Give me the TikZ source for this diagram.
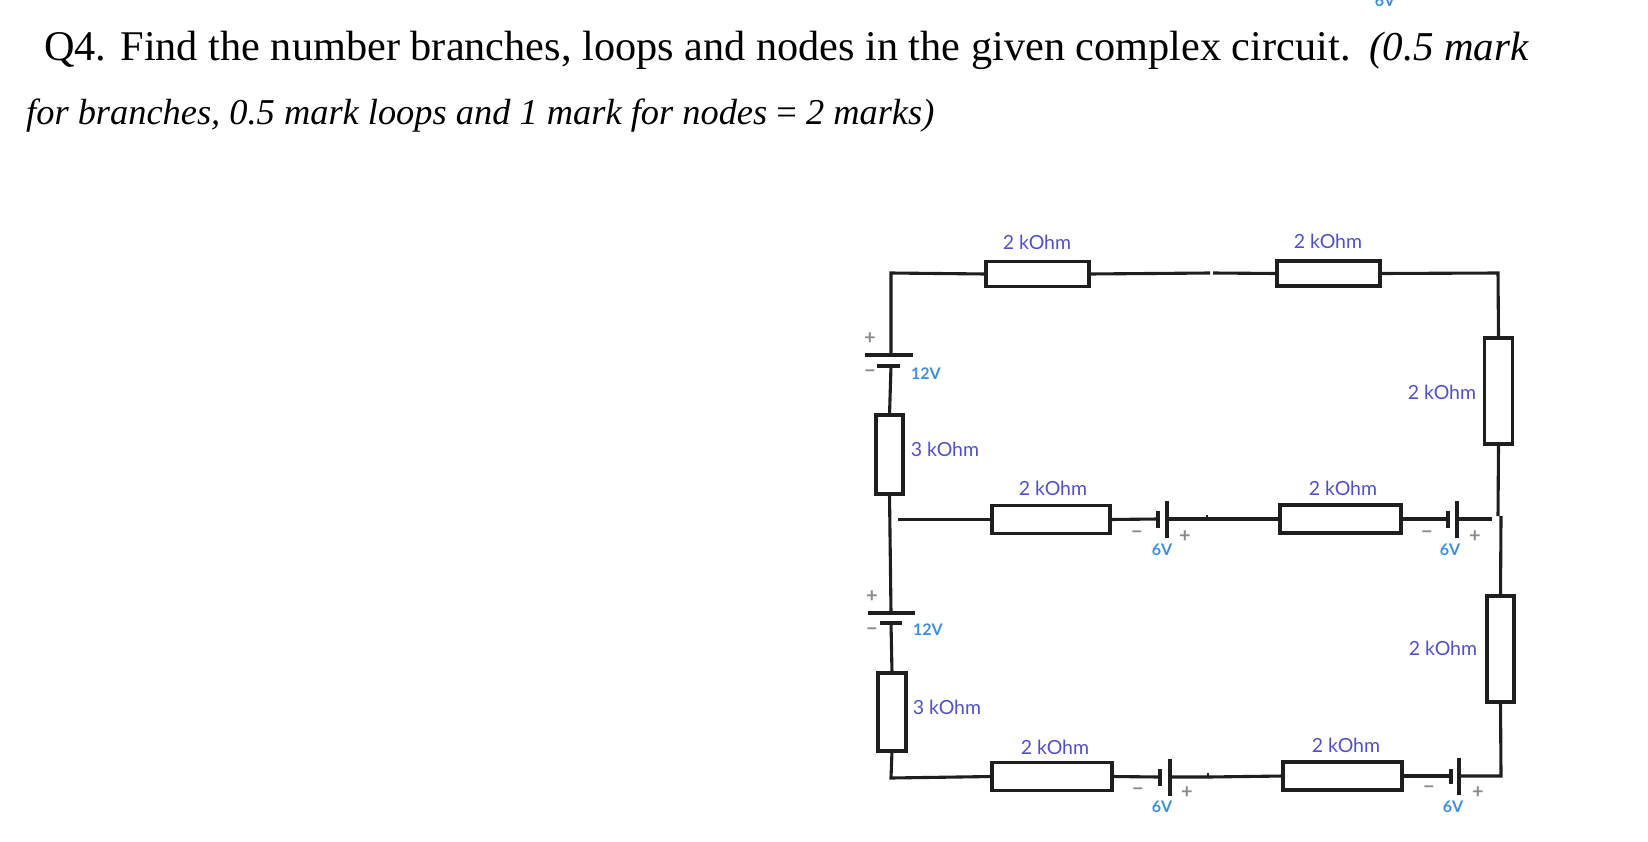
\documentclass[tikz,border=0pt]{standalone}
\usepackage{fontspec}
\setmainfont{Liberation Serif}
\newfontfamily\labfont{Lato}
\definecolor{ohmc}{HTML}{5050C8}
\definecolor{voltc}{HTML}{3D8FDB}
\definecolor{sgnc}{HTML}{8A8A8A}
\definecolor{wirec}{HTML}{1E1E1E}
\tikzset{
  wire/.style={draw=wirec, line width=3.1pt},
  resbox/.style={draw=wirec, line width=3.2pt, fill=white, rectangle, inner sep=0pt, outer sep=0pt},
  plate/.style={draw=wirec, line width=3.4pt},
  splate/.style={draw=wirec, line width=4.4pt},
  ohmlab/.style={text=ohmc, font=\labfont\fontsize{19.5}{19.5}\selectfont, inner sep=0pt},
  voltlab/.style={text=voltc, font=\labfont\bfseries\fontsize{16}{16}\selectfont, inner sep=0pt},
  sgnlab/.style={text=sgnc, font=\labfont\bfseries\fontsize{20}{20}\selectfont, inner sep=0pt},
  titlefont/.style={inner sep=0pt, anchor=base west}
}
\begin{document}
\begin{tikzpicture}[x=1pt,y=-1pt]
\useasboundingbox (0,0) rectangle (1648,841);
% ---------- title ----------
\node[titlefont, font=\fontsize{42.3}{42.3}\selectfont] (t1) at (44,60) {Q4. Find the number branches, loops and nodes in the given complex circuit.};
\node[titlefont, font=\itshape\fontsize{41}{41}\selectfont] (t2) at (1369,60) {(0.5 mark};
\node[titlefont, font=\itshape\fontsize{36.4}{36.4}\selectfont] (t3) at (26,124) {for branches, 0.5 mark loops and 1 mark for nodes {\upshape =} 2 marks)};
\node[voltlab, anchor=south] (cut6v) at (1385,7) {6V};

% ---------- resistors ----------
\node[resbox, minimum width=103pt, minimum height=25pt] (rt1) at (1037.5,274) {};
\node[resbox, minimum width=103pt, minimum height=25pt] (rt2) at (1328.5,273.5) {};
\node[resbox, minimum width=28pt, minimum height=106pt] (rr1) at (1498.5,391) {};
\node[resbox, minimum width=27pt, minimum height=106pt] (rr2) at (1500.5,649) {};
\node[resbox, minimum width=27pt, minimum height=79pt] (rl1) at (889.5,454.5) {};
\node[resbox, minimum width=28pt, minimum height=78pt] (rl2) at (892,712) {};
\node[resbox, minimum width=118pt, minimum height=28pt] (rm1) at (1051,519.5) {};
\node[resbox, minimum width=121pt, minimum height=28pt] (rm2) at (1340.5,519) {};
\node[resbox, minimum width=120pt, minimum height=28pt] (rb1) at (1052,776.5) {};
\node[resbox, minimum width=119pt, minimum height=28pt] (rb2) at (1342.5,776) {};

% ---------- corner / junction coordinates ----------
\coordinate (ctl) at (891,273);
\coordinate (ctr) at (1498,273);
\coordinate (cbl) at (891,778);
\coordinate (cbr) at (1501,776);
\coordinate (gapL) at (1210,273);
\coordinate (gapR) at (1213,273);
\coordinate (mstart) at (898,519.5);
\coordinate (mend) at (1492,519);
\coordinate (rjog1) at (1498,516);
\coordinate (rjog2) at (1501,516);
% batteries (left column, vertical)
\coordinate (bl1L) at (891,355);   % long plate
\coordinate (bl1S) at (891,366);   % short plate
\coordinate (bl2L) at (891,613);
\coordinate (bl2S) at (891,623);
% batteries (horizontal)
\coordinate (bm1S) at (1158,519);
\coordinate (bm1L) at (1167,519);
\coordinate (bm2S) at (1448,519);
\coordinate (bm2L) at (1457,519);
\coordinate (bb1S) at (1160,777);
\coordinate (bb1L) at (1170,777);
\coordinate (bb2S) at (1451,776);
\coordinate (bb2L) at (1459,776);
\coordinate (mtick) at (1207,519);
\coordinate (btick) at (1208,777);

% ---------- wires ----------
\draw[wire] (bl1L) -- (ctl) -- (rt1.west);
\draw[wire] (rt1.east) -- (gapL);
\draw[wire] (gapR) -- (rt2.west);
\draw[wire] (rt2.east) -- (ctr) -- (rr1.north);
\draw[wire] (rr1.south) -- (rjog1);
\draw[wire] (rjog2) -- (rr2.north);
\draw[wire] (rr2.south) -- (cbr) -- (bb2L);
\draw[wire] (bb2S) -- (rb2.east);
\draw[wire] (rb2.west) -- (btick) -- (bb1L);
\draw[wire] (bb1S) -- (rb1.east);
\draw[wire] (rb1.west) -- (cbl) -- (rl2.south);
\draw[wire] (rl2.north) -- (bl2S);
\draw[wire] (bl2L) -- (rl1.south);
\draw[wire] (rl1.north) -- (bl1S);
\draw[wire] (mstart) -- (rm1.west);
\draw[wire] (rm1.east) -- (bm1S);
\draw[wire] (bm1L) -- (mtick) -- (rm2.west);
\draw[wire] (rm2.east) -- (bm2S);
\draw[wire] (bm2L) -- (mend);
\draw[wire, line width=1.6pt] (mtick) -- ++(0,-4);
\draw[wire, line width=1.6pt] (btick) -- ++(0,-4);

% ---------- battery plates ----------
\draw[plate] ([xshift=-26pt]bl1L) -- ([xshift=22pt]bl1L);
\draw[splate] ([xshift=-14pt]bl1S) -- ([xshift=9pt]bl1S);
\draw[plate] ([xshift=-23pt]bl2L) -- ([xshift=24pt]bl2L);
\draw[splate] ([xshift=-11pt]bl2S) -- ([xshift=11pt]bl2S);
\draw[plate] ([yshift=-19pt]bm1L) -- ([yshift=18pt]bm1L);
\draw[splate] ([yshift=-9pt]bm1S) -- ([yshift=8pt]bm1S);
\draw[plate] ([yshift=-19pt]bm2L) -- ([yshift=18pt]bm2L);
\draw[splate] ([yshift=-9pt]bm2S) -- ([yshift=8pt]bm2S);
\draw[plate] ([yshift=-19pt]bb1L) -- ([yshift=18pt]bb1L);
\draw[splate] ([yshift=-9pt]bb1S) -- ([yshift=8pt]bb1S);
\draw[plate] ([yshift=-19pt]bb2L) -- ([yshift=18pt]bb2L);
\draw[splate] ([yshift=-8pt]bb2S) -- ([yshift=7pt]bb2S);

% ---------- labels ----------
\node[ohmlab] (lt1) at (1037,242) {2 kOhm};
\node[ohmlab] (lt2) at (1328,241) {2 kOhm};
\node[ohmlab] (lr1) at (1442,392) {2 kOhm};
\node[ohmlab] (lr2) at (1443,648) {2 kOhm};
\node[ohmlab] (ll1) at (945,449) {3 kOhm};
\node[ohmlab] (ll2) at (947,707) {3 kOhm};
\node[ohmlab] (lm1) at (1053,488) {2 kOhm};
\node[ohmlab] (lm2) at (1343,488) {2 kOhm};
\node[ohmlab] (lb1) at (1055,747) {2 kOhm};
\node[ohmlab] (lb2) at (1346,745) {2 kOhm};

\node[voltlab] (v1) at (926,374) {12V};
\node[voltlab] (v2) at (928,630) {12V};
\node[voltlab] (v3) at (1162,550) {6V};
\node[voltlab] (v4) at (1450,550) {6V};
\node[voltlab] (v5) at (1162,807) {6V};
\node[voltlab] (v6) at (1453,807) {6V};

\node[sgnlab] (p1) at (870,339) {+};
\node[sgnlab] (m1) at (870,374) {−};
\node[sgnlab] (p2) at (872,597) {+};
\node[sgnlab] (m2) at (872,632) {−};
\node[sgnlab] (m3) at (1137,535) {−};
\node[sgnlab] (p3) at (1185,537) {+};
\node[sgnlab] (m4) at (1427,535) {−};
\node[sgnlab] (p4) at (1475,537) {+};
\node[sgnlab] (m5) at (1138,792) {−};
\node[sgnlab] (p5) at (1187,793) {+};
\node[sgnlab] (m6) at (1429,790) {−};
\node[sgnlab] (p6) at (1478,793) {+};
\end{tikzpicture}
\end{document}
